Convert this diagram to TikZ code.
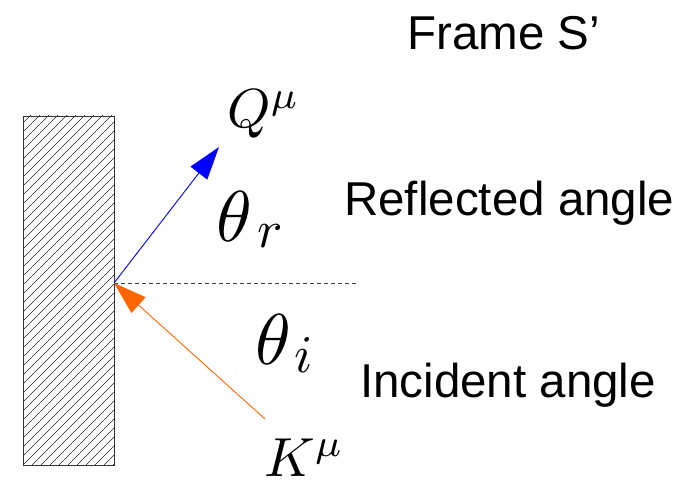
\documentclass[tikz,border=0pt]{standalone}
\usepackage{fontspec}
\setsansfont{Liberation Sans}
\usetikzlibrary{arrows.meta}
\newcommand{\bigmath}[1]{\scalebox{5.5}{$#1$}}
% theta with a large subscript: #1 subscript, #2 gap, #3 lowering
\newcommand{\thetasub}[3]{\scalebox{7.2}{$\theta$}\hspace{#2}\raisebox{#3}{\scalebox{5.3}{$#1$}}}
\begin{document}
\begin{tikzpicture}[x=1pt,y=-1pt,
  label/.style={inner sep=0pt, anchor=base west, font=\sffamily\fontsize{47.5}{52}\selectfont},
  mathlbl/.style={inner sep=0pt, anchor=base west},
  ray/.style={line width=0.9pt, -{Triangle[length=33pt,width=21pt]}},
  hatchline/.style={line width=0.7pt, black!85}]
\useasboundingbox (0,0) rectangle (696,481);
% wall
\begin{scope}
  \clip (23,116) rectangle (114,465);
  \foreach \i in {0,...,50} {
    \draw[hatchline] ({23-360+9*\i},465) -- ++(360,-360);
  }
\end{scope}
\node (wall) [draw=black!80, line width=0.9pt, minimum width=91pt, minimum height=349pt, inner sep=0pt] at (68.5,290.5) {};
% points
\coordinate (hit) at (114,283);
\coordinate (qend) at (219,147);
\coordinate (kstart) at (265,419);
\coordinate (dend) at (356,283);
% normal
\draw[black!75, line width=0.8pt, dash pattern=on 4pt off 3pt] (hit) -- (dend);
% rays
\draw[ray, blue] (hit) -- (qend);
\draw[ray, color={rgb,255:red,255;green,102;blue,0}] (kstart) -- (hit);
% math labels
\node (Q) [mathlbl] at (227,128) {\bigmath{Q^\mu}};
\node (thr) [mathlbl] at (216,241) {\thetasub{r}{5pt}{-6pt}};
\node (thi) [mathlbl] at (255,364) {\thetasub{i}{3pt}{-8pt}};
\node (K) [mathlbl] at (264,476) {\bigmath{K^\mu}};
% text labels
\node (frame) [label] at (407,50) {Frame S’};
\node (refl) [label] at (344,215) {Reflected angle};
\node (inc) [label] at (360,397) {Incident angle};
\end{tikzpicture}
\end{document}
